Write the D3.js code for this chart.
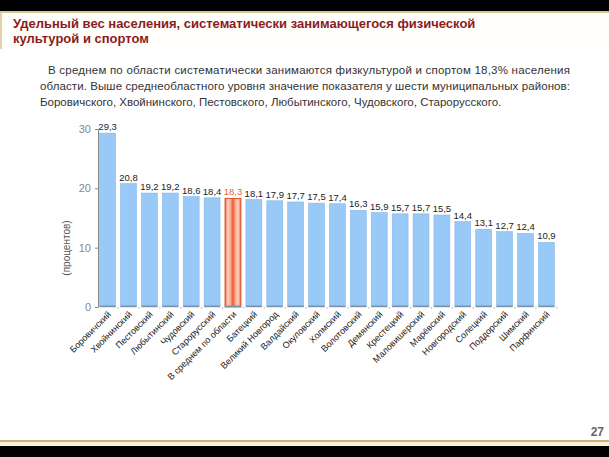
<!DOCTYPE html>
<html>
<head>
<meta charset="utf-8">
<script src="https://cdn.jsdelivr.net/npm/d3@7"></script>
<style>
  body { margin: 0; background: #fff; }
  svg { display: block; font-family: "Liberation Sans", Arial, sans-serif; }
</style>
</head>
<body>
<svg id="drawing_region"></svg>
<script>
// districts and share of population doing sport, %
const categories = ["Боровичский", "Хвойнинский", "Пестовский", "Любытинский", "Чудовский", "Старорусский",
    "В среднем по области", "Батецкий", "Великий Новгород", "Валдайский", "Окуловский", "Холмский",
    "Волотовский", "Демянский", "Крестецкий", "Маловишерский", "Марёвский", "Новгородский",
    "Солецкий", "Поддорский", "Шимский", "Парфинский"];
const values = [29.3, 20.8, 19.2, 19.2, 18.6, 18.4, 18.3, 18.1, 17.9, 17.7, 17.5, 17.4,
    16.3, 15.9, 15.7, 15.7, 15.5, 14.4, 13.1, 12.7, 12.4, 10.9];
const average_name = "В среднем по области";
const y_ticks = [0, 10, 20, 30];

const title_lines = ["Удельный вес населения, систематически занимающегося физической",
    "культурой и спортом"];
const text_lines = ["В среднем по области систематически занимаются физкультурой и спортом 18,3% населения",
    "области. Выше среднеобластного уровня значение показателя у шести муниципальных районов:",
    "Боровичского, Хвойнинского, Пестовского, Любытинского, Чудовского, Старорусского."];
const y_label = "(процентов)";
const page_no = "27";

const data = categories.map((c, i) => ({ name: c, value: values[i] }));

const W = 609, H = 457;
const svg = d3.select('#drawing_region').attr('width', W).attr('height', H);

// frame of the slide
svg.append('rect').attr('x', 0).attr('y', 0).attr('width', W).attr('height', 11).attr('fill', '#000');
svg.append('rect').attr('x', 0).attr('y', 11).attr('width', W).attr('height', 2).attr('fill', '#dcc793');
svg.append('rect').attr('x', 0).attr('y', 13).attr('width', W).attr('height', 36).attr('fill', '#fffefa');
svg.append('rect').attr('x', 0).attr('y', 13).attr('width', 2).attr('height', 36).attr('fill', '#e2d3a6');
svg.append('rect').attr('x', 0).attr('y', 440).attr('width', W).attr('height', 2).attr('fill', '#c9b27c');
svg.append('rect').attr('x', 0).attr('y', 442).attr('width', W).attr('height', 4).attr('fill', '#fbf3d8');
svg.append('rect').attr('x', 0).attr('y', 446).attr('width', W).attr('height', H - 446).attr('fill', '#000');

// title
svg.append('g').selectAll('text').data(title_lines).enter().append('text')
    .attr('x', 13).attr('y', (d, i) => 28 + i * 15)
    .attr('fill', '#8a1c22').attr('font-size', 13).attr('font-weight', 'bold')
    .text(d => d);

// paragraph (first two lines justified)
svg.append('g').selectAll('text').data(text_lines).enter().append('text')
    .attr('x', (d, i) => i == 0 ? 48 : 40)
    .attr('y', (d, i) => 74 + i * 16)
    .attr('fill', '#333').attr('font-size', 11.5)
    .each(function(d, i) {
        if (i < 2) d3.select(this).attr('textLength', i == 0 ? 522 : 530).attr('lengthAdjust', 'spacing');
    })
    .text(d => d);

svg.append('text').attr('x', 604).attr('y', 436).attr('text-anchor', 'end')
    .attr('fill', '#666').attr('font-size', 12).attr('font-weight', 'bold').text(page_no);

// chart
const margin = { left: 98, top: 129, right: 53, bottom: 150 };
const inner_width = W - margin.left - margin.right;
const inner_height = 307 - margin.top;
const chart = svg.append('g').attr('transform', `translate(${margin.left}, ${margin.top})`);

const xscale = d3.scaleBand().domain(categories).range([0, inner_width]).paddingInner(0.24).paddingOuter(0.08);
const yscale = d3.scaleLinear().domain([0, 30]).range([inner_height, 0]);

const defs = svg.append('defs');
const grad = defs.append('linearGradient').attr('id', 'avg');
[[0, '#ee6a3c'], [0.18, '#fbd3c4'], [0.36, '#f7a58a'], [0.5, '#ef5a2a'], [0.64, '#f7a58a'], [0.82, '#fbd3c4'], [1, '#ee6a3c']]
    .forEach(s => grad.append('stop').attr('offset', s[0]).attr('stop-color', s[1]));

const yaxis = d3.axisLeft(yscale).tickValues(y_ticks).tickSize(3).tickSizeOuter(0);
const yg = chart.append('g').call(yaxis);
yg.select('.domain').attr('stroke', '#888');
yg.selectAll('.tick line').attr('stroke', '#888');
yg.selectAll('.tick text').attr('fill', '#888').attr('font-size', 11).attr('x', -7)
    .attr('font-family', '"Liberation Sans", Arial, sans-serif');

svg.append('text').attr('transform', 'translate(70, 248) rotate(-90)').attr('text-anchor', 'middle')
    .attr('fill', '#555').attr('font-size', 10).text(y_label);

chart.selectAll('rect.bar').data(data).enter().append('rect')
    .attr('class', 'bar')
    .attr('x', d => xscale(d.name))
    .attr('y', d => yscale(d.value))
    .attr('width', xscale.bandwidth())
    .attr('height', d => yscale(0) - yscale(d.value))
    .attr('fill', d => d.name == average_name ? 'url(#avg)' : '#99c9f6')
    .attr('stroke', d => d.name == average_name ? '#d9532a' : '#86b6e4')
    .attr('stroke-width', d => d.name == average_name ? 1 : 0.6);

// darker base of each bar
chart.selectAll('rect.base').data(data).enter().append('rect')
    .attr('class', 'base')
    .attr('x', d => xscale(d.name))
    .attr('y', yscale(0) - 1.5)
    .attr('width', xscale.bandwidth())
    .attr('height', 1.5)
    .attr('fill', '#7c93ab');

// small ticks between bars
chart.selectAll('line.sep').data(categories.slice(1).concat([null])).enter().append('line')
    .attr('class', 'sep')
    .attr('x1', (d, i) => xscale(categories[i]) + xscale.bandwidth() + xscale.step() * xscale.paddingInner() / 2)
    .attr('x2', (d, i) => xscale(categories[i]) + xscale.bandwidth() + xscale.step() * xscale.paddingInner() / 2)
    .attr('y1', yscale(0)).attr('y2', yscale(0) + 1.5)
    .attr('stroke', '#999').attr('stroke-width', 0.8);

chart.selectAll('text.val').data(data).enter().append('text')
    .attr('class', 'val')
    .attr('x', d => xscale(d.name) + xscale.bandwidth() / 2)
    .attr('y', d => yscale(d.value) - 3)
    .attr('text-anchor', 'middle')
    .attr('font-size', 9.5)
    .attr('fill', d => d.name == average_name ? '#e8663a' : '#222')
    .text(d => d3.format('.1f')(d.value).replace('.', ','));

chart.selectAll('text.cat').data(data).enter().append('text')
    .attr('class', 'cat')
    .attr('transform', d => `translate(${xscale(d.name) + xscale.bandwidth() / 2 + 4}, ${yscale(0) + 8}) rotate(-45)`)
    .attr('text-anchor', 'end')
    .attr('font-size', 9)
    .attr('fill', '#222')
    .text(d => d.name);
</script>
</body>
</html>
